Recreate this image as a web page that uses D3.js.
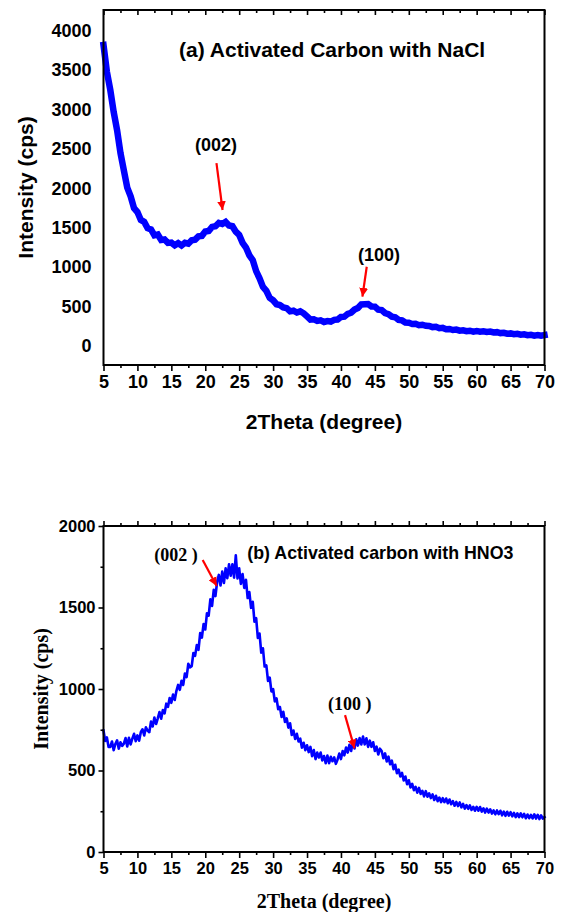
<!DOCTYPE html>
<html><head><meta charset="utf-8">
<script src="https://cdn.jsdelivr.net/npm/d3@7"></script>
<style>
html,body{margin:0;padding:0;background:#fff;}
svg{display:block;}
.ar{font-family:"Liberation Sans",Arial,sans-serif;font-weight:bold;}
.tr{font-family:"Liberation Serif","Times New Roman",serif;font-weight:bold;}
</style></head><body>
<svg id="c" width="563" height="912"></svg>
<script>
// ---------- DATA ----------
// (a) Activated Carbon with NaCl : 2theta from 5 to 70 step 0.5
const xStartA = 5, xStepA = 0.5;
const intensityA = [
3820,3480,3250,2970,2740,2450,2230,2010,1900,1750,
1700,1600,1575,1495,1480,1405,1415,1345,1352,1308,
1312,1278,1305,1275,1310,1298,1342,1350,1392,1398,
1452,1460,1512,1520,1562,1548,1575,1530,1520,1450,
1410,1310,1250,1150,1090,950,860,750,700,610,
580,530,520,490,480,440,448,425,440,415,
375,335,338,318,325,305,316,310,332,335,
368,372,408,422,462,482,528,530,532,502,
500,462,455,418,405,372,365,332,325,298,
295,280,283,265,270,257,255,240,243,225,
230,213,216,203,208,195,199,188,194,183,
191,181,188,179,184,172,176,164,168,156,
160,149,154,143,148,137,142,132,139,130,138];

// (b) Activated carbon with HNO3 : 2theta from 5 to 70 step 0.25
const xStartB = 5, xStepB = 0.25;
const intensityB = [
745,681,703,644, 645,678,625,663, 685,634,673,651, 665,699,648,701, 660,695,725,680,
715,683,735,753, 715,765,745,735, 800,770,825,785, 820,859,818,871, 850,910,890,945,
915,966,933,989, 1025,995,1050,1025, 1095,1073,1155,1133, 1140,1221,1203,1269, 1240,1343,1315,1398,
1365,1465,1450,1550, 1510,1608,1570,1658, 1700,1635,1720,1650, 1740,1680,1765,1695, 1765,1683,1820,1678,
1740,1645,1705,1620, 1670,1558,1595,1498, 1535,1413,1435,1313, 1340,1223,1250,1138, 1145,1050,1070,985,
1000,924,943,876, 890,828,860,798, 820,763,790,718, 745,693,725,678, 695,640,670,625,
655,613,645,588, 625,570,610,580, 610,562,589,545, 592,545,584,557, 580,541,568,604,
570,619,593,641, 610,658,620,678, 635,691,653,699, 660,708,660,698, 645,683,645,673,
620,646,598,634, 620,575,605,555, 585,538,560,508, 535,483,505,463, 485,439,463,416,
440,396,418,379, 400,364,393,356, 375,341,373,339, 360,331,353,319, 345,312,334,306,
330,306,328,299, 322,293,312,284, 307,282,304,274, 295,266,288,265, 286,258,277,253,
277,253,276,248, 268,242,266,242, 262,236,255,231, 255,232,253,225, 248,222,247,223,
244,219,240,214, 237,214,237,213, 234,207,230,207, 228,206,231,205, 228,202,225,205, 214];

const xMajorTicks = [5,10,15,20,25,30,35,40,45,50,55,60,65,70];
const xMinorTicks = [7.5,12.5,17.5,22.5,27.5,32.5,37.5,42.5,47.5,52.5,57.5,62.5,67.5];
const yTicksA = [0,500,1000,1500,2000,2500,3000,3500,4000];
const yMajorB = [0,500,1000,1500,2000];
const yMinorB = [250,750,1250,1750];

// annotations (data coordinates)
const titleA = {text:"(a) Activated Carbon with NaCl", x:38.7, y:3765};
const peaksA = [
  {label:"(002)", lx:21.6, ly:2551, x1:21.65, y1:2322, x2:22.55, y2:1726},
  {label:"(100)", lx:45.6, ly:1155, x1:43.8, y1:1006, x2:43.16, y2:626}
];
const titleB = {text:"(b) Activated carbon with HNO3", x:26.2, y:1834};
const peaksB = [
  {label:"(002 )", lx:15.7, ly:1822, x1:19.62, y1:1791, x2:21.68, y2:1632},
  {label:"(100 )", lx:41.3, ly:907, x1:40.6, y1:840, x2:42.0, y2:636}
];

// ---------- DRAW ----------
const svg = d3.select("#c");
const defs = svg.append("defs");
defs.append("marker").attr("id","ah").attr("viewBox","0 0 10 10")
  .attr("refX",10).attr("refY",5).attr("markerWidth",4).attr("markerHeight",4)
  .attr("markerUnits","strokeWidth").attr("orient","auto")
  .append("path").attr("d","M0,0 L10,5 L0,10 z").attr("fill","#ff0000");

const L = 103.5, R = 544.5;

function minorAxis(gen, scale, vals, size){
  return gen(scale).tickValues(vals).tickSize(size).tickFormat("");
}

function panel(o){
  const x = d3.scaleLinear().domain([5,70]).range([L,R]);
  const y = d3.scaleLinear().domain(o.ydom).range([o.bottom,o.top]);
  const g = svg.append("g");
  const pts = o.data.map((v,i)=>[o.x0+i*o.step, v]);
  g.append("path").datum(pts)
    .attr("fill","none").attr("stroke","#0000ff")
    .attr("stroke-width",o.lw).attr("stroke-linejoin",o.join).attr("stroke-linecap","square")
    .attr("d", d3.line().x(d=>x(d[0])).y(d=>y(d[1])));
  // frame
  g.append("rect").attr("x",L).attr("y",o.top).attr("width",R-L).attr("height",o.bottom-o.top)
    .attr("fill","none").attr("stroke","#000").attr("stroke-width",2);
  // bottom axis
  const gb = g.append("g").attr("transform",`translate(0,${o.bottom})`);
  gb.call(d3.axisBottom(x).tickValues(xMajorTicks).tickSize(6).tickPadding(4).tickFormat(d3.format("d")));
  gb.append("g").call(minorAxis(d3.axisBottom,x,xMinorTicks,3));
  // top axis
  const gt = g.append("g").attr("transform",`translate(0,${o.top})`);
  if(o.topInward){
    gt.call(d3.axisBottom(x).tickValues(xMajorTicks).tickSize(5).tickFormat(""));
    gt.append("g").call(minorAxis(d3.axisBottom,x,xMinorTicks,3));
  } else {
    gt.call(d3.axisTop(x).tickValues(xMajorTicks).tickSize(5).tickFormat(""));
    gt.append("g").call(minorAxis(d3.axisTop,x,xMinorTicks,3));
  }
  // left axis
  const gl = g.append("g").attr("transform",`translate(${L},0)`);
  gl.call(d3.axisLeft(y).tickValues(o.yMajor).tickSize(o.yTick).tickPadding(o.yPad).tickFormat(d3.format("d")));
  if(o.yMinor) gl.append("g").call(minorAxis(d3.axisLeft,y,o.yMinor,3));
  g.selectAll(".domain").remove();
  g.selectAll(".tick line").attr("stroke","#000").attr("stroke-width",1.6);
  gb.selectAll(".tick text").attr("class","ar").style("font-size",o.tfs+"px").attr("fill","#000");
  gl.selectAll(".tick text").attr("class","ar").style("font-size",o.tfs+"px").attr("fill","#000");
  // axis titles
  g.append("text").attr("class",o.tcls).attr("x",(L+R)/2).attr("y",o.xtY)
    .attr("text-anchor","middle").style("font-size",o.atfs+"px").text("2Theta (degree)");
  g.append("text").attr("class",o.tcls)
    .attr("transform",`translate(${o.ytX},${(o.top+o.bottom)/2}) rotate(-90)`)
    .attr("text-anchor","middle").style("font-size",o.atfs+"px").text("Intensity (cps)");
  // title annotation
  g.append("text").attr("class","ar").attr("x",x(o.title.x)).attr("y",y(o.title.y))
    .attr("text-anchor",o.titleAnchor).attr("dominant-baseline","central")
    .style("font-size",o.titfs+"px").text(o.title.text);
  // peaks
  o.peaks.forEach(p=>{
    g.append("text").attr("class",o.pcls).attr("x",x(p.lx)).attr("y",y(p.ly))
      .attr("text-anchor","middle").attr("dominant-baseline","central")
      .style("font-size",o.pfs+"px").text(p.label);
    g.append("line").attr("x1",x(p.x1)).attr("y1",y(p.y1)).attr("x2",x(p.x2)).attr("y2",y(p.y2))
      .attr("stroke","#ff0000").attr("stroke-width",2.2).attr("marker-end","url(#ah)");
  });
}

panel({data:intensityA, x0:xStartA, step:xStepA, ydom:[-241,4264], top:10, bottom:365, lw:6.5, join:"miter",
  yMajor:yTicksA, yMinor:null, yTick:0, yPad:12, topInward:true, tfs:18, atfs:21, tcls:"ar",
  xtY:429, ytX:33, title:titleA, titleAnchor:"middle", titfs:21, peaks:peaksA, pcls:"ar", pfs:18});

panel({data:intensityB, x0:xStartB, step:xStepB, ydom:[0,2000], top:526, bottom:852, lw:2.6, join:"round",
  yMajor:yMajorB, yMinor:yMinorB, yTick:5, yPad:3, topInward:false, tfs:16.5, atfs:20, tcls:"tr",
  xtY:908, ytX:48, title:titleB, titleAnchor:"start", titfs:17.8, peaks:peaksB, pcls:"tr", pfs:18});
</script>
</body></html>
